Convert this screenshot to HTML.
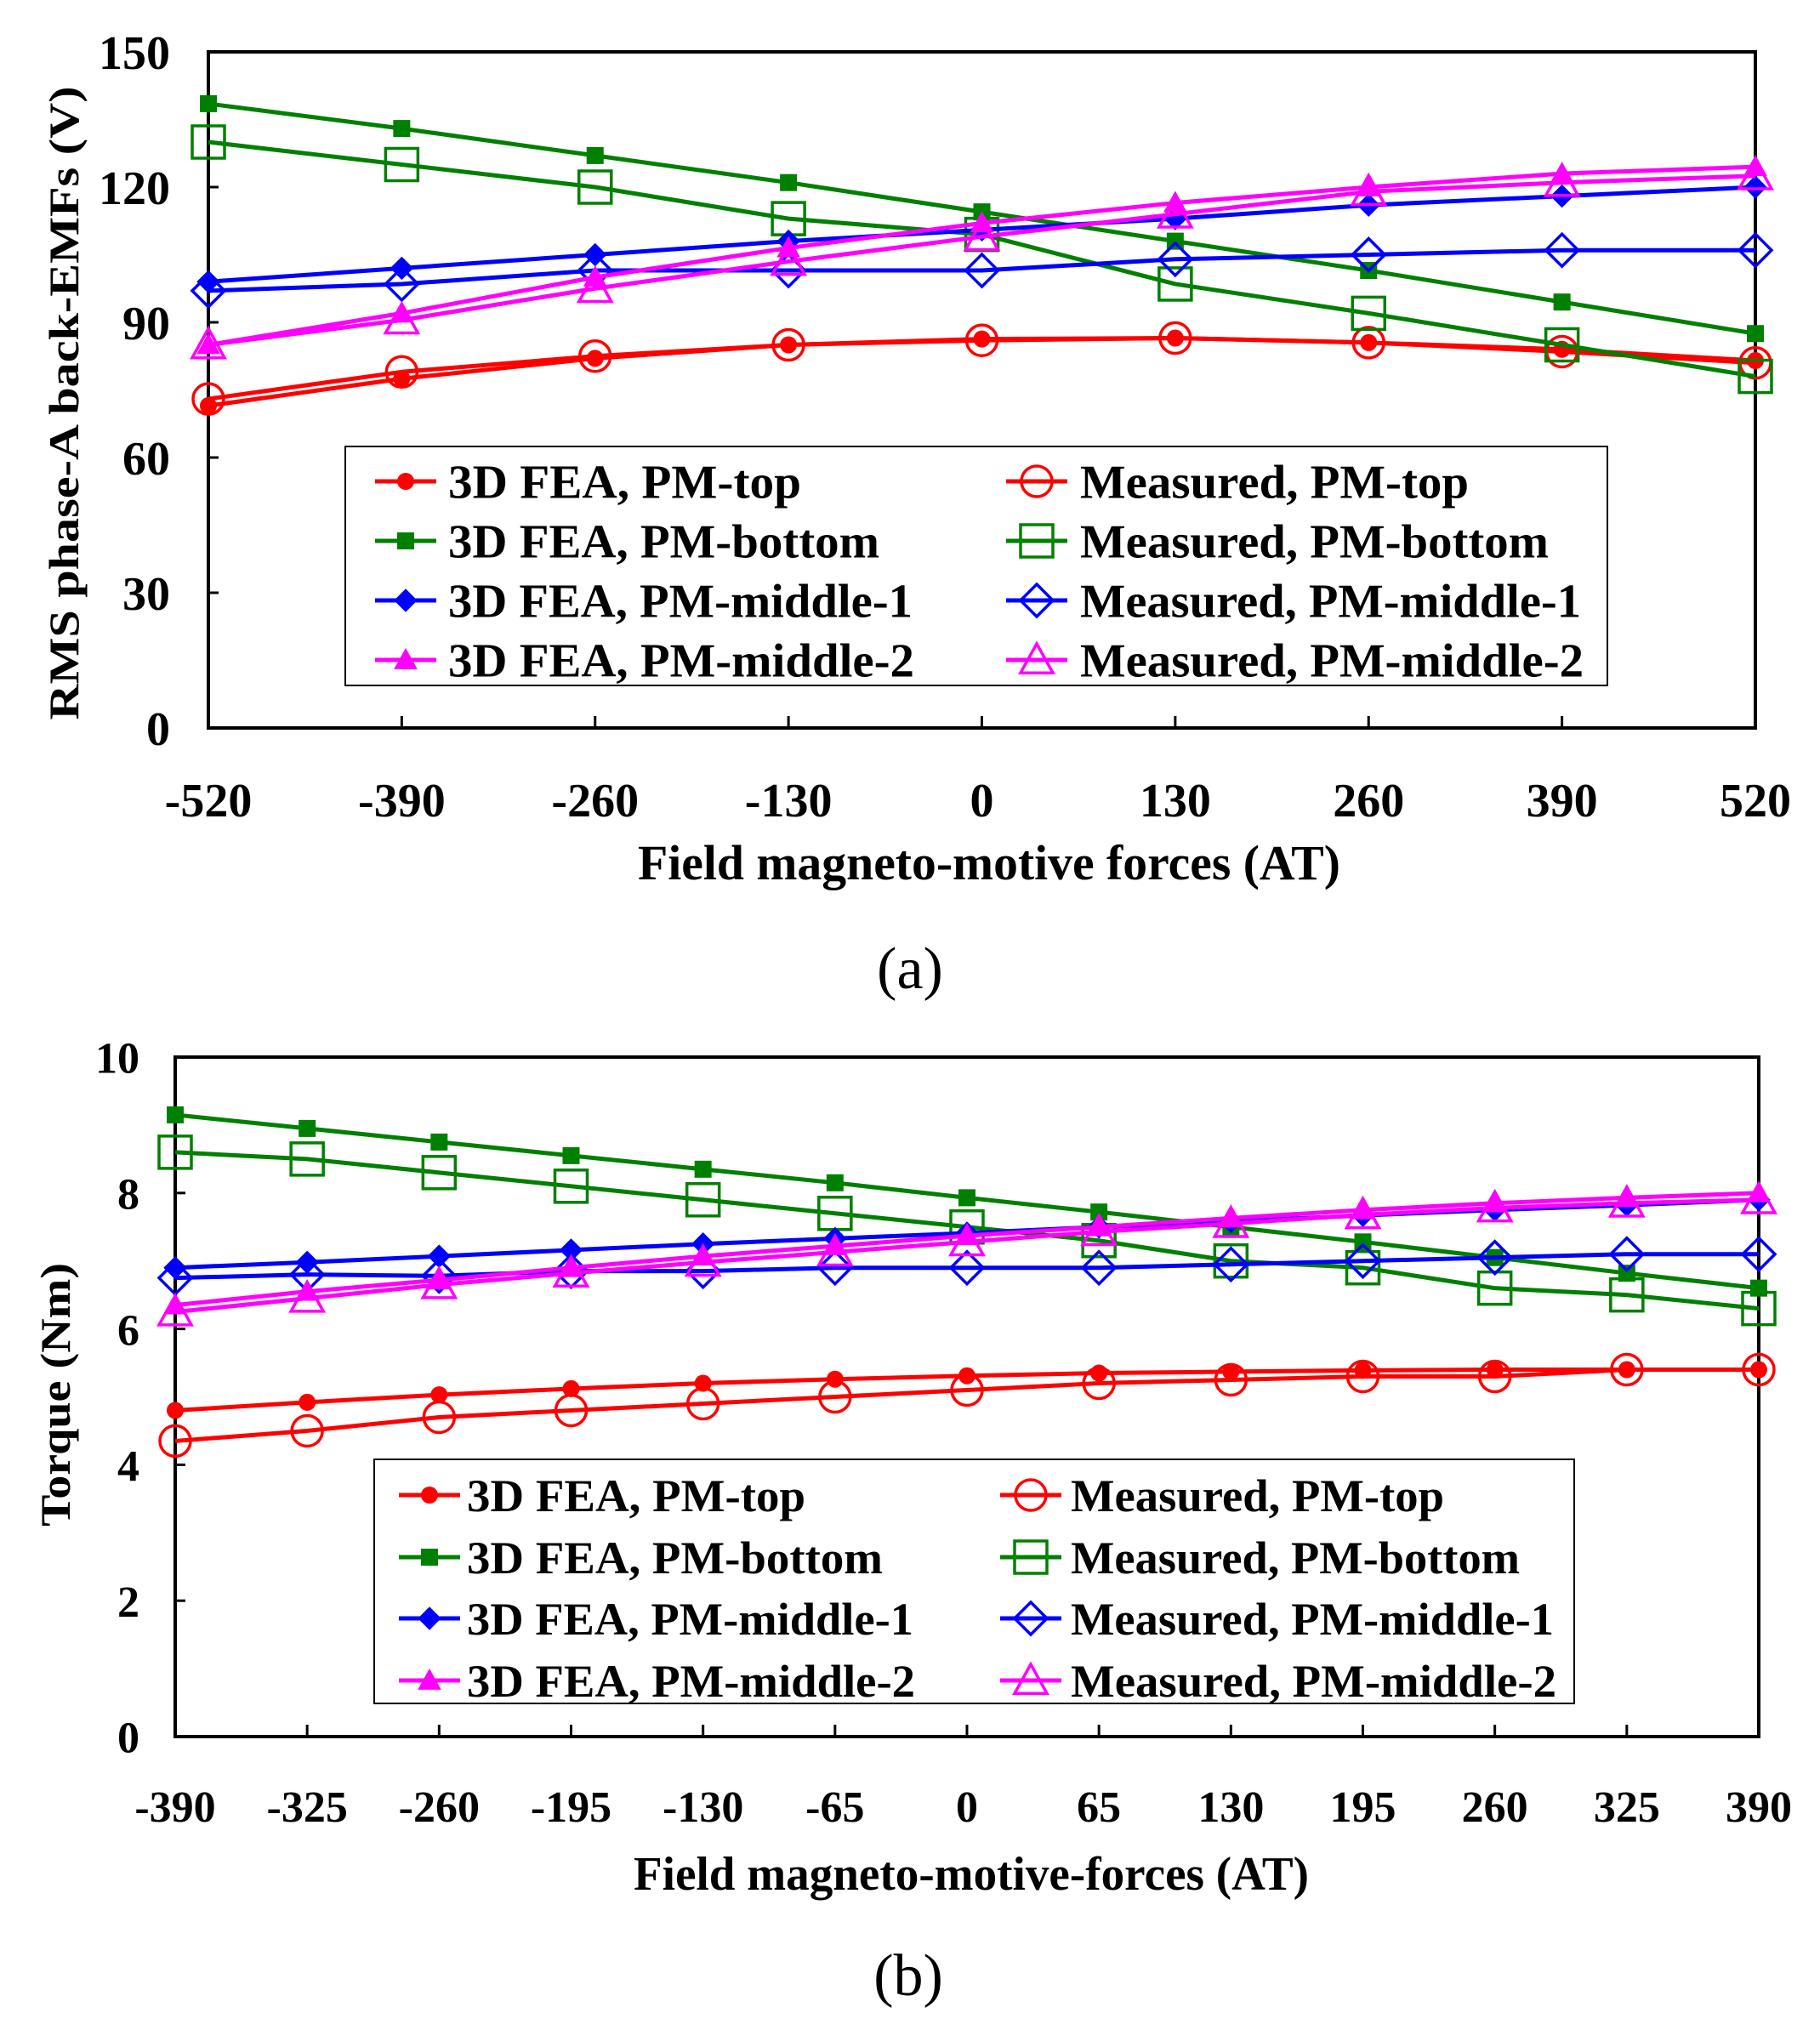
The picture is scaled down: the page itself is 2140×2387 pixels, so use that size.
<!DOCTYPE html>
<html><head><meta charset="utf-8"><style>
html,body{margin:0;padding:0;background:#fff;}
svg{display:block;font-family:"Liberation Serif",serif;}
</style></head><body>
<svg id="fig" width="2140" height="2387" viewBox="0 0 2140 2387" xmlns="http://www.w3.org/2000/svg"></svg>
<script>
// ---- Chart (a) data ----
const xA = [-520,-390,-260,-130,0,130,260,390,520];
const yTicksA = [0,30,60,90,120,150];
const feaTopA = [71.5,77.5,82,85,86.3,86.5,85.5,84,81.5];
const measTopA = [73,79,82.5,85,86,86.5,85.5,83.5,81];
const feaBotA = [138.5,133,127,121,114.5,108,101.5,94.5,87.5];
const measBotA = [130,125,120,113,109.5,98.5,92,85,78];
const feaM1A = [99,102,105,108,110.5,113,116,118,120];
const measM1A = [97,98.5,101.5,101.5,101.5,104,105,106,106];
const feaM2A = [85,92,100,106.5,112,116.5,120,123,124.5];
const measM2A = [85,90.5,97.5,103.5,109,114,119,121,122.5];
// ---- Chart (b) data ----
const xB = [-390,-325,-260,-195,-130,-65,0,65,130,195,260,325,390];
const yTicksB = [0,2,4,6,8,10];
const feaTopB = [4.8,4.92,5.03,5.12,5.2,5.26,5.31,5.35,5.37,5.39,5.4,5.4,5.4];
const measTopB = [4.35,4.5,4.7,4.8,4.9,5.0,5.1,5.2,5.25,5.3,5.3,5.4,5.4];
const feaBotB = [9.15,8.95,8.75,8.55,8.35,8.15,7.93,7.72,7.5,7.28,7.05,6.82,6.6];
const measBotB = [8.6,8.5,8.3,8.1,7.9,7.7,7.5,7.3,7.0,6.9,6.6,6.5,6.3];
const feaM1B = [6.9,6.98,7.07,7.16,7.25,7.33,7.41,7.5,7.58,7.67,7.75,7.82,7.9];
const measM1B = [6.75,6.8,6.78,6.85,6.85,6.9,6.9,6.9,6.95,7.0,7.05,7.1,7.1];
const feaM2B = [6.35,6.55,6.72,6.9,7.07,7.22,7.37,7.5,7.63,7.75,7.85,7.93,8.0];
const measM2B = [6.25,6.45,6.65,6.82,6.98,7.13,7.28,7.43,7.55,7.68,7.78,7.85,7.9];
const legendLabels = ["3D FEA, PM-top","Measured, PM-top","3D FEA, PM-bottom","Measured, PM-bottom","3D FEA, PM-middle-1","Measured, PM-middle-1","3D FEA, PM-middle-2","Measured, PM-middle-2"];

const NS="http://www.w3.org/2000/svg";
const svg=document.getElementById('fig');
function mk(tag,attrs,parent){const e=document.createElementNS(NS,tag);for(const k in attrs)e.setAttribute(k,attrs[k]);(parent||svg).appendChild(e);return e;}
function txt(s,attrs,parent){const e=mk('text',attrs,parent);e.textContent=s;return e;}

const RED='#ff0000',GREEN='#008000',BLUE='#0000ff',MAG='#ff00ff';

function marker(g,type,cx,cy,col,big){
  let e;
  if(type==='circle') e=big?mk('circle',{cx,cy,r:18,fill:'none',stroke:col,'stroke-width':3.5},g):mk('circle',{cx,cy,r:10,fill:col},g);
  else if(type==='square') e=big?mk('rect',{x:cx-19,y:cy-19,width:38,height:38,fill:'none',stroke:col,'stroke-width':3.5},g):mk('rect',{x:cx-10,y:cy-10,width:20,height:20,fill:col},g);
  else if(type==='diamond'){const s=big?19:13;e=mk('polygon',{points:`${cx},${cy-s} ${cx+s},${cy} ${cx},${cy+s} ${cx-s},${cy}`,fill:big?'none':col,stroke:col,'stroke-width':big?3.5:1},g);}
  else {const s=big?19:13;e=mk('polygon',{points:`${cx},${cy-s} ${cx+s},${cy+s*0.8} ${cx-s},${cy+s*0.8}`,fill:big?'none':col,stroke:col,'stroke-width':big?3.5:1},g);}
  return e;
}

function chart(cfg){
  const g=mk('g',{});
  
  
  const {L,R,T,B,xs,ymax,yticks,fs}=cfg;
  const xPos=i=>L+(R-L)*i/(xs.length-1);
  const yPos=v=>B-(B-T)*v/ymax;
  const frame=mk('rect',{x:L,y:T,width:R-L,height:B-T,fill:'none',stroke:'#000','stroke-width':4},g);
  
  
  yticks.forEach(v=>{
    mk('line',{x1:L,x2:L+12,y1:yPos(v),y2:yPos(v),stroke:'#000','stroke-width':3},g);
    const t=txt(String(v),{x:cfg.ylx,y:yPos(v)+fs*0.36,'text-anchor':'end','font-size':fs,'font-weight':'bold'},g);
    
    
  });
  xs.forEach((v,i)=>{
    mk('line',{x1:xPos(i),x2:xPos(i),y1:B,y2:B-14,stroke:'#000','stroke-width':3},g);
    const t=txt(String(v),{x:xPos(i),y:cfg.xly,'text-anchor':'middle','font-size':fs,'font-weight':'bold'},g);
    
    
  });
  const xt=txt(cfg.xtitle,{x:cfg.xtx,y:cfg.xty,'text-anchor':'middle','font-size':cfg.xtfs,'font-weight':'bold',textLength:cfg.xtw,lengthAdjust:'spacingAndGlyphs'},g);
  
  
  const yt=txt(cfg.ytitle,{x:0,y:0,'text-anchor':'middle','font-size':cfg.ytfs,'font-weight':'bold',textLength:cfg.ytw,lengthAdjust:'spacingAndGlyphs',transform:`translate(${cfg.ytx},${cfg.yty}) rotate(-90)`},g);
  
  
  const cap=txt(cfg.caption,{x:cfg.capx,y:cfg.capy,'text-anchor':'middle','font-size':70},g);
  
  
  // series
  cfg.series.forEach(s=>{
    const sg=mk('g',{},g);
    
    
    const pts=s.data.map((v,i)=>`${xPos(i)},${yPos(v)}`).join(' ');
    mk('polyline',{points:pts,fill:'none',stroke:s.col,'stroke-width':5,'stroke-linejoin':'round'},sg);
    s.data.forEach((v,i)=>{
      const m=marker(sg,s.type,xPos(i),yPos(v),s.col,s.big);
      
      
    });
  });
  // legend
  const lg=mk('g',{},g);
  
  
  const lb=cfg.leg;
  mk('rect',{x:lb.x,y:lb.y,width:lb.w,height:lb.h,fill:'#fff',stroke:'#000','stroke-width':2},lg);
  cfg.series.forEach((s,k)=>{
    const col=k%2, row=Math.floor(k/2);
    const idx=(s.big?1:0)+row*2;
    const cy=lb.rows[row];
    const lx1=lb.lx[col], lx2=lx1+lb.ll;
    const eg=mk('g',{},lg);
    
    
    mk('line',{x1:lx1,x2:lx2,y1:cy,y2:cy,stroke:s.col,'stroke-width':5},eg);
    marker(eg,s.type,(lx1+lx2)/2,cy,s.col,s.big);
    txt(legendLabels[k],{x:lb.tx[col],y:cy+lb.fs*0.35,'font-size':lb.fs,'font-weight':'bold',textLength:lb.tw[k],lengthAdjust:'spacingAndGlyphs'},eg);
  });
}

function seriesList(a){
  return [
    {name:'fea-pm-top',data:a[0],col:RED,type:'circle',big:false},
    {name:'measured-pm-top',data:a[1],col:RED,type:'circle',big:true},
    {name:'fea-pm-bottom',data:a[2],col:GREEN,type:'square',big:false},
    {name:'measured-pm-bottom',data:a[3],col:GREEN,type:'square',big:true},
    {name:'fea-pm-middle-1',data:a[4],col:BLUE,type:'diamond',big:false},
    {name:'measured-pm-middle-1',data:a[5],col:BLUE,type:'diamond',big:true},
    {name:'fea-pm-middle-2',data:a[6],col:MAG,type:'triangle',big:false},
    {name:'measured-pm-middle-2',data:a[7],col:MAG,type:'triangle',big:true}
  ];
}

chart({name:'chart-a-back-emf',L:245,R:2064,T:61,B:856,xs:xA,ymax:150,yticks:yTicksA,fs:56,
  ylx:200,xly:960,xtitle:'Field magneto-motive forces (AT)',xtx:1163,xty:1034,xtfs:58,xtw:826,
  ytitle:'RMS phase-A back-EMFs (V)',ytx:92,yty:474,ytfs:50,ytw:745,caption:'(a)',capx:1070,capy:1162,
  series:seriesList([feaTopA,measTopA,feaBotA,measBotA,feaM1A,measM1A,feaM2A,measM2A]),
  leg:{x:406,y:525,w:1484,h:281,rows:[566,636,706,776],lx:[441,1183],ll:72,tx:[527,1270],fs:56,
       tw:[415,457,507,551,546,589,548,592]}});

chart({name:'chart-b-torque',L:206,R:2068,T:1243,B:2042,xs:xB,ymax:10,yticks:yTicksB,fs:52,
  ylx:164,xly:2142,xtitle:'Field magneto-motive-forces (AT)',xtx:1142,xty:2222,xtfs:56,xtw:794,
  ytitle:'Torque (Nm)',ytx:82,yty:1640,ytfs:50,ytw:310,caption:'(b)',capx:1068,capy:2346,
  series:seriesList([feaTopB,measTopB,feaBotB,measBotB,feaM1B,measM1B,feaM2B,measM2B]),
  leg:{x:440,y:1716,w:1411,h:287,rows:[1758,1831,1903,1976],lx:[469,1176],ll:72,tx:[549,1259],fs:54,
       tw:[398,439,489,528,525,568,527,571]}});
</script>
</body></html>
